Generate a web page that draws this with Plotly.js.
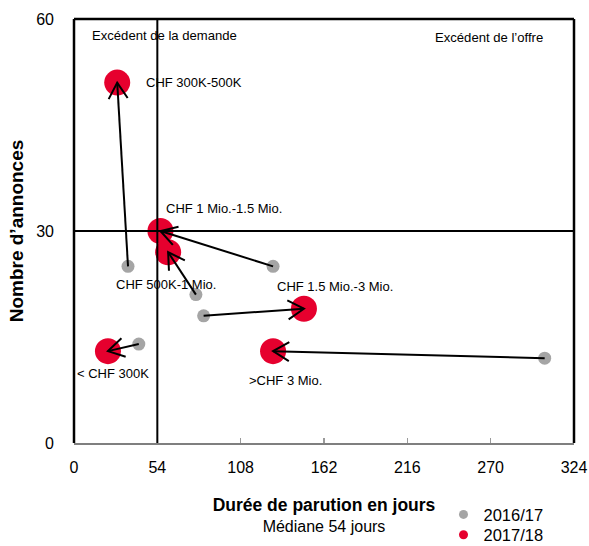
<!DOCTYPE html>
<html>
<head>
<meta charset="utf-8">
<script src="https://cdn.plot.ly/plotly-3.0.1.min.js"></script>
<style>html,body{margin:0;padding:0;background:#fff;}#chart{width:589px;height:546px;}</style>
</head>
<body>
<div id="chart"></div>
<script>
// ---- data ----
var categories = ["CHF 300K-500K", "CHF 1 Mio.-1.5 Mio.", "CHF 500K-1 Mio.", "CHF 1.5 Mio.-3 Mio.", "< CHF 300K", ">CHF 3 Mio."];
var days1617 = [35, 129, 79, 84, 42, 305];
var ads1617  = [25, 25, 21, 18, 14, 12];
var days1718 = [28, 56, 61, 149, 22, 129];
var ads1718  = [51, 30, 27, 19, 13, 13];
var seriesNames = ["2016/17", "2017/18"];
var xTicks = [0, 54, 108, 162, 216, 270, 324];
var yTicks = [0, 30, 60];
var medianDays = 54;
var refAds = 30;

// ---- styling ----
var FONT = "'Liberation Sans', Arial, sans-serif";
var RED = "#e6002e";
var GRAY = "#a5a5a5";
var W = 589, H = 546;
var M = {l: 74, r: 15, t: 19, b: 103, autoexpand: false};
var xMax = 324, yMax = 60;
var plotW = W - M.l - M.r, plotH = H - M.t - M.b;
var sx = plotW / xMax, sy = plotH / yMax;

var traces = [];
traces.push({
  x: days1617, y: ads1617, mode: "markers", type: "scatter", name: seriesNames[0],
  marker: {color: GRAY, size: 13}, showlegend: false, hoverinfo: "x+y", cliponaxis: false
});
traces.push({
  x: days1718, y: ads1718, mode: "markers", type: "scatter", name: seriesNames[1],
  text: categories, marker: {color: RED, size: 26}, showlegend: false, hoverinfo: "text+x+y", cliponaxis: false
});

// arrows from 2016/17 to 2017/18 (open V heads computed in pixel space)
var L = 16, HW = 9.5;
var ax = [], ay = [];
for (var i = 0; i < categories.length; i++) {
  var x0 = days1617[i] * sx, y0 = ads1617[i] * sy;
  var x1 = days1718[i] * sx, y1 = ads1718[i] * sy;
  var dx = x1 - x0, dy = y1 - y0, len = Math.sqrt(dx * dx + dy * dy);
  var ux = dx / len, uy = dy / len, nx = -uy, ny = ux;
  var bx = x1 - ux * L, by = y1 - uy * L;
  ax.push(days1617[i], days1718[i], null, (bx + nx * HW) / sx, days1718[i], (bx - nx * HW) / sx, null);
  ay.push(ads1617[i], ads1718[i], null, (by + ny * HW) / sy, ads1718[i], (by - ny * HW) / sy, null);
}
traces.push({
  x: ax, y: ay, mode: "lines", type: "scatter", line: {color: "#000", width: 2},
  showlegend: false, hoverinfo: "skip", cliponaxis: false
});

// legend entries
traces.push({x: [null], y: [null], mode: "markers", type: "scatter", name: seriesNames[0],
  marker: {color: GRAY, size: 9}, legend: "legend"});
traces.push({x: [null], y: [null], mode: "markers", type: "scatter", name: seriesNames[1],
  marker: {color: RED, size: 9}, legend: "legend2"});

var labelFont = {family: FONT, size: 13, color: "#000"};
var cornerFont = {family: FONT, size: 13.1, color: "#000"};
function lab(text, x, y) {
  return {text: text, x: x, y: y, xref: "x", yref: "y", xanchor: "left", yanchor: "middle",
    showarrow: false, font: labelFont};
}
var annotations = [
  {text: "Excédent de la demande", x: 10.2, y: 57.7, xref: "x", yref: "y", xanchor: "left", yanchor: "middle", showarrow: false, font: cornerFont},
  {text: "Excédent de l’offre", x: 305.5, y: 57.4, xref: "x", yref: "y", xanchor: "right", yanchor: "middle", showarrow: false, font: cornerFont},
  lab(categories[0], 45.4, 51.0),
  lab(categories[1], 58.3, 33.2),
  lab(categories[2], 26.1, 22.4),
  lab(categories[3], 130.2, 22.2),
  lab(categories[4], 0.6, 9.8),
  lab(categories[5], 112.3, 8.8)
];

var shapes = [
  {type: "line", xref: "paper", yref: "paper", x0: 0, x1: 0, y0: 0, y1: 1, line: {color: "#000", width: 2.5}},
  {type: "line", xref: "paper", yref: "paper", x0: 1, x1: 1, y0: 0, y1: 1, line: {color: "#000", width: 2.5}},
  {type: "line", xref: "paper", yref: "paper", x0: 0, x1: 1, y0: 1, y1: 1, line: {color: "#000", width: 2.5}},
  {type: "line", xref: "x", yref: "paper", x0: medianDays, x1: medianDays, y0: 0, y1: 1, line: {color: "#000", width: 2}},
  {type: "line", xref: "paper", yref: "y", x0: 0, x1: 1, y0: refAds, y1: refAds, line: {color: "#000", width: 1.8}}
];

var tickFont = {family: FONT, size: 16, color: "#000"};
var legendFont = {family: FONT, size: 16.5, color: "#000"};
var layout = {
  width: W, height: H, margin: M,
  paper_bgcolor: "#fff", plot_bgcolor: "#fff",
  showlegend: true,
  font: {family: FONT, size: 16, color: "#000"},
  xaxis: {
    range: [0, xMax], tickvals: xTicks, ticktext: xTicks.map(String),
    showgrid: false, zeroline: false, showline: true, linecolor: "#7f7f7f", linewidth: 2,
    ticks: "inside", ticklen: 5, tickwidth: 1.5, tickcolor: "#9a9a9a",
    tickfont: tickFont, ticklabelstandoff: 9, ticklabeloverflow: "allow", fixedrange: true,
    title: {text: "<b style='font-size:17.5px'>Durée de parution en jours</b><br>Médiane 54 jours", font: {family: FONT, size: 16, color: "#000"}, standoff: 25}
  },
  yaxis: {
    range: [0, yMax], tickvals: yTicks, ticktext: yTicks.map(String),
    showgrid: false, zeroline: false, showline: false, ticks: "",
    tickfont: tickFont, ticklabelstandoff: 19, fixedrange: true,
    title: {text: "<b>Nombre d’annonces</b>", font: {family: FONT, size: 19, color: "#000"}, standoff: 7}
  },
  legend: {x: 0.739, y: -0.169, xanchor: "left", yanchor: "middle", font: legendFont, bgcolor: "rgba(0,0,0,0)", borderwidth: 0, itemwidth: 30},
  legend2: {x: 0.739, y: -0.217, xanchor: "left", yanchor: "middle", font: legendFont, bgcolor: "rgba(0,0,0,0)", borderwidth: 0, itemwidth: 30},
  annotations: annotations,
  shapes: shapes
};

Plotly.newPlot("chart", traces, layout, {displayModeBar: false, staticPlot: true});
</script>
</body>
</html>
